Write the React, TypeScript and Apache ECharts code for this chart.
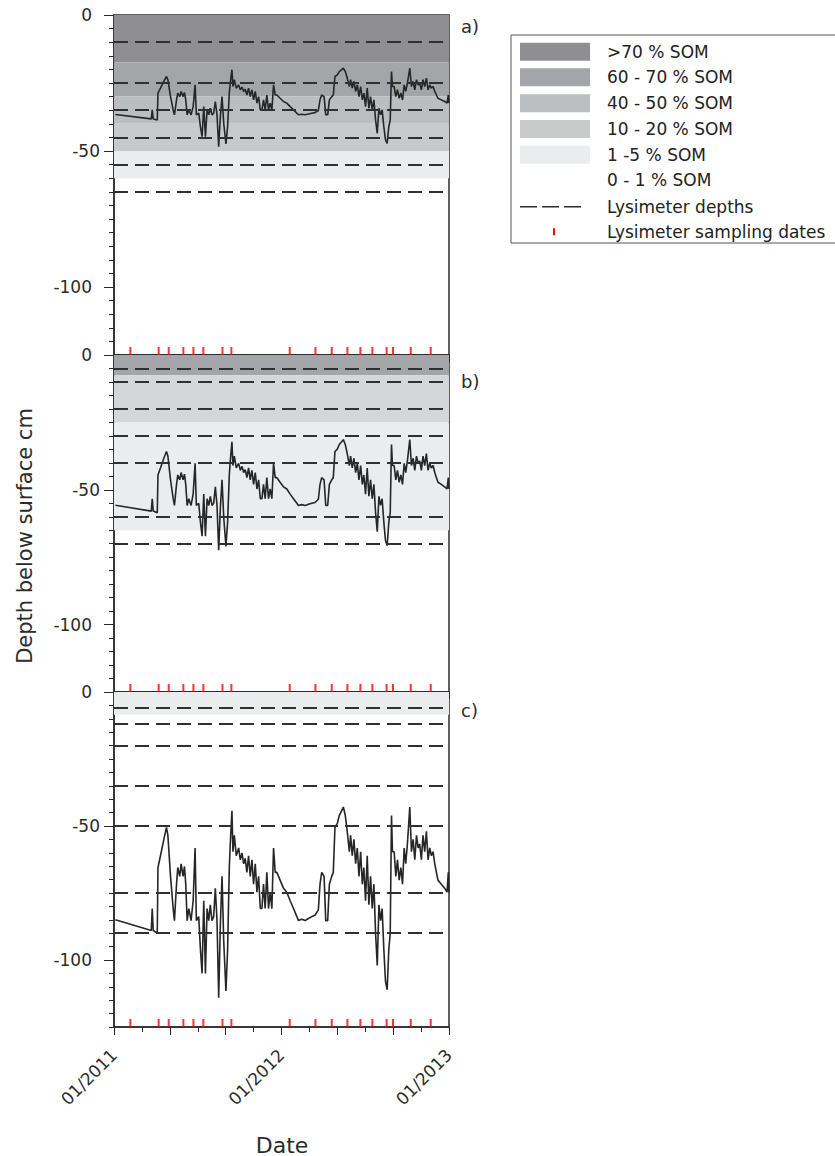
import React, { useEffect, useRef } from "react";
import * as echarts from "echarts";

// ---------- DATA ----------
// time in months since 01/2011
const months = [
  0.1, 2.67, 2.74, 2.81, 3.1, 3.15, 3.33, 3.57, 3.76, 3.86, 4.05, 4.24, 4.33, 4.48, 4.57, 4.71, 4.81, 4.95, 5.05, 5.14,
  5.24, 5.36, 5.52, 5.67, 5.81, 5.9, 6.07, 6.19, 6.31, 6.43, 6.55, 6.67, 6.79, 6.9, 7.02, 7.14, 7.26, 7.38, 7.5, 7.62,
  7.74, 7.86, 8.02, 8.14, 8.26, 8.33, 8.45, 8.52, 8.62, 8.76, 8.93, 9.05, 9.17, 9.29, 9.4, 9.52, 9.64, 9.76, 9.88, 10.0,
  10.12, 10.24, 10.36, 10.48, 10.6, 10.71, 10.83, 10.95, 11.07, 11.19, 11.31, 11.43, 11.55, 11.67, 11.9, 12.14, 12.38, 12.62, 12.86, 13.1,
  13.21, 13.45, 13.69, 13.93, 14.17, 14.4, 14.64, 14.76, 14.88, 15.05, 15.17, 15.31, 15.43, 15.6, 15.71, 15.83, 16.0, 16.14, 16.31, 16.43,
  16.57, 16.71, 16.86, 16.95, 17.07, 17.19, 17.31, 17.43, 17.55, 17.67, 17.79, 17.9, 18.02, 18.14, 18.26, 18.38, 18.5, 18.62, 18.74, 18.86,
  18.98, 19.1, 19.21, 19.33, 19.45, 19.57, 19.69, 19.79, 19.88, 19.95, 20.07, 20.19, 20.31, 20.43, 20.55, 20.67, 20.79, 20.9, 21.02, 21.19,
  21.31, 21.43, 21.55, 21.67, 21.79, 21.9, 22.02, 22.14, 22.26, 22.38, 22.5, 22.62, 22.74, 22.86, 22.98, 23.1, 23.21, 23.45, 23.69, 23.86,
  23.95, 24.0,
];

const depthA = [
  -36.6, -38.2, -34.9, -38.2, -38.6, -28.7, -26.9, -24.4, -22.6, -23.8, -30.0, -34.9, -36.7, -31.2, -28.7, -30.0, -28.1, -30.0, -28.5, -31.2,
  -36.7, -34.9, -36.7, -33.7, -25.7, -36.7, -36.1, -41.0, -44.7, -33.7, -44.7, -34.9, -36.7, -34.3, -36.7, -36.1, -31.8, -36.7, -48.4, -37.3,
  -30.0, -39.8, -47.4, -41.0, -28.7, -25.1, -20.1, -26.3, -23.8, -26.9, -25.7, -27.5, -26.5, -28.1, -27.3, -29.4, -26.9, -30.0, -27.5, -31.2,
  -28.1, -32.4, -30.0, -34.9, -34.9, -31.2, -34.9, -29.4, -34.9, -32.4, -34.9, -25.7, -29.4, -29.4, -30.6, -31.8, -32.4, -33.7, -34.9, -36.1,
  -36.7, -36.5, -36.7, -36.4, -36.1, -35.9, -35.1, -31.2, -29.4, -30.0, -36.7, -36.7, -31.2, -30.0, -29.4, -22.6, -22.0, -20.8, -20.1, -19.5,
  -20.8, -23.2, -26.3, -23.8, -26.9, -24.4, -28.1, -25.7, -30.0, -26.3, -31.2, -28.7, -33.7, -26.9, -34.3, -30.0, -34.9, -31.2, -38.6, -43.5,
  -34.3, -36.7, -34.9, -41.0, -45.9, -47.2, -41.0, -38.6, -20.8, -26.3, -26.3, -30.0, -27.5, -30.6, -28.7, -31.2, -25.7, -28.1, -25.1, -19.5,
  -26.3, -24.4, -27.5, -23.8, -25.7, -25.1, -27.5, -23.8, -26.3, -23.2, -27.5, -25.7, -26.9, -26.3, -28.1, -29.4, -30.6, -31.2, -31.8, -32.4,
  -29.4, -32.4,
];

const depthB = [
  -55.7, -57.9, -53.3, -57.9, -58.5, -44.5, -41.9, -38.3, -35.8, -37.5, -46.3, -53.3, -55.8, -48.0, -44.5, -46.3, -43.6, -46.3, -44.2, -48.0,
  -55.8, -53.3, -55.8, -51.6, -40.2, -55.8, -55.0, -61.9, -67.2, -51.6, -67.2, -53.3, -55.8, -52.4, -55.8, -55.0, -48.9, -55.8, -72.4, -56.7,
  -46.3, -60.2, -71.0, -61.9, -44.5, -39.3, -32.2, -41.0, -37.5, -41.9, -40.2, -42.8, -41.3, -43.6, -42.5, -45.5, -41.9, -46.3, -42.8, -48.0,
  -43.6, -49.7, -46.3, -53.3, -53.3, -48.0, -53.3, -45.5, -53.3, -49.7, -53.3, -40.2, -45.5, -45.5, -47.2, -48.9, -49.7, -51.6, -53.3, -55.0,
  -55.8, -55.5, -55.8, -55.4, -55.0, -54.7, -53.5, -48.0, -45.5, -46.3, -55.8, -55.8, -48.0, -46.3, -45.5, -35.8, -34.9, -33.2, -32.2, -31.4,
  -33.2, -36.6, -41.0, -37.5, -41.9, -38.3, -43.6, -40.2, -46.3, -41.0, -48.0, -44.5, -51.6, -41.9, -52.4, -46.3, -53.3, -48.0, -58.5, -65.5,
  -52.4, -55.8, -53.3, -61.9, -68.9, -70.7, -61.9, -58.5, -33.2, -41.0, -41.0, -46.3, -42.8, -47.2, -44.5, -48.0, -40.2, -43.6, -39.3, -31.4,
  -41.0, -38.3, -42.8, -37.5, -40.2, -39.3, -42.8, -37.5, -41.0, -36.6, -42.8, -40.2, -41.9, -41.0, -43.6, -45.5, -47.2, -48.0, -48.9, -49.7,
  -45.5, -49.7,
];

const depthC = [
  -85.0, -89.0, -80.8, -89.0, -90.0, -65.5, -61.1, -55.0, -50.5, -53.5, -68.8, -80.8, -85.3, -71.7, -65.5, -68.8, -64.1, -68.8, -65.1, -71.7,
  -85.3, -80.8, -85.3, -77.9, -58.2, -85.3, -83.8, -95.9, -105.0, -77.9, -105.0, -80.8, -85.3, -79.4, -85.3, -83.8, -73.2, -85.3, -114.1, -86.7,
  -68.8, -92.9, -111.6, -95.9, -65.5, -56.7, -44.3, -59.6, -53.5, -61.1, -58.2, -62.6, -60.1, -64.1, -62.1, -67.3, -61.1, -68.8, -62.6, -71.7,
  -64.1, -74.7, -68.8, -80.8, -80.8, -71.7, -80.8, -67.3, -80.8, -74.7, -80.8, -58.2, -67.3, -67.3, -70.2, -73.2, -74.7, -77.9, -80.8, -83.8,
  -85.3, -84.8, -85.3, -84.5, -83.8, -83.3, -81.3, -71.7, -67.3, -68.8, -85.3, -85.3, -71.7, -68.8, -67.3, -50.5, -49.0, -46.1, -44.3, -42.9,
  -46.1, -52.0, -59.6, -53.5, -61.1, -55.0, -64.1, -58.2, -68.8, -59.6, -71.7, -65.5, -77.9, -61.1, -79.4, -68.8, -80.8, -71.7, -90.0, -102.0,
  -79.4, -85.3, -80.8, -95.9, -108.0, -111.1, -95.9, -90.0, -46.1, -59.6, -59.6, -68.8, -62.6, -70.2, -65.5, -71.7, -58.2, -64.1, -56.7, -42.9,
  -59.6, -55.0, -62.6, -53.5, -58.2, -56.7, -62.6, -53.5, -59.6, -52.0, -62.6, -58.2, -61.1, -59.6, -64.1, -67.3, -70.2, -71.7, -73.2, -74.7,
  -67.3, -74.7,
];

const samplingMonths = [
  1.17, 3.2, 3.92, 4.97, 5.69, 6.4, 7.77, 8.41, 12.59, 14.43, 15.6, 16.72, 17.65, 18.51, 19.53, 19.99, 21.26, 22.69,
];

const lysimeterDepthsA = [-10, -25, -35, -45, -55, -65];
const lysimeterDepthsB = [-5, -10, -20, -30, -40, -60, -70];
const lysimeterDepthsC = [-6, -12, -20, -35, -50, -75, -90];

// SOM layers: [top, bottom, class key]
const somLayersA: [number, number, string][] = [
  [0, -17.5, "som70"],
  [-17.5, -30, "som60"],
  [-30, -40, "som40"],
  [-40, -50, "som10"],
  [-50, -60, "som1"],
];
const somLayersB: [number, number, string][] = [
  [0, -7.5, "som60"],
  [-7.5, -25, "som10b"],
  [-25, -65, "som1"],
];
const somLayersC: [number, number, string][] = [[0, -8.5, "som1"]];

const yTickLabels = [0, -50, -100];
const yMajorTicks = [0, -50, -100];
const xTickLabels: Record<number, string> = { 0: "01/2011", 12: "01/2012", 24: "01/2013" };
const panelLabels = ["a)", "b)", "c)"];
const legendLabels = [
  ">70 % SOM",
  "60 - 70 % SOM",
  "40 - 50 % SOM",
  "10 - 20 % SOM",
  "1 -5 % SOM",
  "0 - 1 % SOM",
  "Lysimeter depths",
  "Lysimeter sampling dates",
];
const legendSwatchKeys = ["som70", "som60", "som40", "som10", "som1"];

// ---------- STYLE ----------
const shades: Record<string, string> = {
  som70: "#8f8e93",
  som60: "#a4a5a9",
  som40: "#bbbec1",
  som10: "#c8c9cb",
  som10b: "#d4d6d9",
  som1: "#ebecee",
};
const FONT = "DejaVu Sans";
const INK = "#2b2b2b";

const grids = [
  { left: 114, top: 15, width: 335, height: 340 },
  { left: 114, top: 355, width: 335, height: 337 },
  { left: 114, top: 692, width: 335, height: 335 },
];

function buildOption() {
  const grid = grids.map((g) => ({
    ...g,
    containLabel: false,
    outerBoundsMode: "none",
    show: true,
    borderColor: INK,
    borderWidth: 1.5,
    backgroundColor: "transparent",
  }));

  const xAxis: any[] = [];
  [0, 1].forEach((i) => {
    xAxis.push({
      gridIndex: i,
      type: "value",
      position: "bottom",
      min: 0,
      max: 24,
      interval: 4,
      axisLine: { show: true, onZero: false, lineStyle: { color: INK, width: 1.5 } },
      axisTick: { show: true, length: 7, lineStyle: { color: INK, width: 1 } },
      axisLabel: { show: false },
      splitLine: { show: false },
    });
  });
  xAxis.push({
    gridIndex: 2,
    type: "value",
    position: "bottom",
    min: 0,
    max: 24,
    interval: 2,
    axisLine: { show: true, onZero: false, lineStyle: { color: INK, width: 1.5 } },
    axisTick: { show: true, length: 5, lineStyle: { color: INK, width: 1 } },
    axisLabel: {
      show: true,
      rotate: 45,
      margin: 25,
      fontFamily: FONT,
      fontSize: 17,
      color: INK,
      hideOverlap: false,
      formatter: (v: number) => xTickLabels[Math.round(v)] ?? "",
    },
    splitLine: { show: false },
  });
  xAxis.push({
    gridIndex: 2,
    type: "value",
    position: "bottom",
    offset: 0,
    min: 0,
    max: 24,
    interval: 4,
    axisLine: { show: false, onZero: false },
    axisTick: { show: true, length: 8, lineStyle: { color: INK, width: 1 } },
    axisLabel: { show: false },
    splitLine: { show: false },
  });

  const yAxis: any[] = [];
  [0, 1, 2].forEach((i) => {
    yAxis.push({
      gridIndex: i,
      type: "value",
      position: "left",
      min: -125,
      max: 0,
      interval: 5,
      axisLine: { show: true, onZero: false, lineStyle: { color: INK, width: 1.5 } },
      axisTick: { show: true, length: 5, lineStyle: { color: INK, width: 1 } },
      splitLine: { show: false },
      axisLabel: {
        show: true,
        margin: 14,
        fontFamily: FONT,
        fontSize: 17,
        color: INK,
        formatter: (v: number) => {
          if (!yTickLabels.includes(v)) return "";
          return v === -50 ? "{n|" + v + "}" : "{w|" + v + "}";
        },
        rich: {
          n: { fontFamily: FONT, fontSize: 17, color: INK },
          w: { fontFamily: FONT, fontSize: 17, color: INK, padding: [0, 8, 0, 0] },
        },
      },
    });
  });
  [0, 1, 2].forEach((i) => {
    yAxis.push({
      gridIndex: i,
      type: "value",
      position: "left",
      offset: 0,
      min: -125,
      max: 0,
      axisLine: { show: false, onZero: false },
      axisTick: { show: true, length: 10, customValues: yMajorTicks, lineStyle: { color: INK, width: 1 } },
      axisLabel: { show: false },
      splitLine: { show: false },
    });
  });

  const depths = [depthA, depthB, depthC];
  const layers = [somLayersA, somLayersB, somLayersC];
  const lys = [lysimeterDepthsA, lysimeterDepthsB, lysimeterDepthsC];
  const series: any[] = [];
  [0, 1, 2].forEach((i) => {
    const xi = i;
    series.push({
      type: "line",
      name: "som" + i,
      xAxisIndex: xi,
      yAxisIndex: i,
      data: [],
      silent: true,
      z: 1,
      markArea: {
        silent: true,
        data: layers[i].map(([top, bottom, key]) => [
          { yAxis: top, itemStyle: { color: shades[key], opacity: 1 } },
          { yAxis: bottom },
        ]),
      },
    });
    series.push({
      type: "line",
      name: "lys" + i,
      xAxisIndex: xi,
      yAxisIndex: i,
      data: [],
      silent: true,
      z: 2,
      markLine: {
        silent: true,
        symbol: ["none", "none"],
        label: { show: false },
        lineStyle: { type: [14, 7], color: "#303030", width: 1.8 },
        data: lys[i].map((d) => ({ yAxis: d })),
      },
    });
    series.push({
      type: "line",
      name: "water" + i,
      xAxisIndex: xi,
      yAxisIndex: i,
      data: months.map((m, k) => [m, depths[i][k]]),
      showSymbol: false,
      symbol: "none",
      silent: true,
      z: 3,
      lineStyle: { color: "#262626", width: 1.6 },
    });
    series.push({
      type: "scatter",
      name: "samp" + i,
      xAxisIndex: xi,
      yAxisIndex: i,
      data: samplingMonths.map((m) => [m, -125]),
      symbol: "rect",
      symbolSize: [2, 8],
      symbolOffset: [0, -4],
      itemStyle: { color: "#ff0000" },
      silent: true,
      z: 4,
    });
  });

  const graphic: any[] = [];
  graphic.push({
    type: "text",
    x: 25,
    y: 536,
    rotation: Math.PI / 2,
    style: { text: "Depth below surface cm", font: `21px "${FONT}"`, fill: INK, textAlign: "center", textVerticalAlign: "middle" },
  });
  graphic.push({
    type: "text",
    x: 282,
    y: 1145,
    style: { text: "Date", font: `22px "${FONT}"`, fill: INK, textAlign: "center", textVerticalAlign: "middle" },
  });
  const panelLabelY = [26, 381, 710];
  panelLabels.forEach((t, i) =>
    graphic.push({
      type: "text",
      x: 461,
      y: panelLabelY[i],
      style: { text: t, font: `18px "${FONT}"`, fill: INK, textAlign: "left", textVerticalAlign: "middle" },
    })
  );
  graphic.push({
    type: "rect",
    shape: { x: 511, y: 35, width: 340, height: 208 },
    style: { fill: "#ffffff", stroke: "#555555", lineWidth: 1 },
  });
  const rowY = [51.7, 77.3, 103.3, 129, 154.7, 180, 206.7, 232.3];
  legendSwatchKeys.forEach((k, i) =>
    graphic.push({
      type: "rect",
      shape: { x: 520, y: rowY[i] - 9, width: 70, height: 18 },
      style: { fill: shades[k] },
    })
  );
  graphic.push({
    type: "line",
    shape: { x1: 520, y1: rowY[6], x2: 582, y2: rowY[6] },
    style: { stroke: INK, lineWidth: 1.5, lineDash: [17, 5] },
  });
  graphic.push({
    type: "line",
    shape: { x1: 554, y1: rowY[7] - 4, x2: 554, y2: rowY[7] + 3 },
    style: { stroke: "#ff0000", lineWidth: 2 },
  });
  legendLabels.forEach((t, i) =>
    graphic.push({
      type: "text",
      x: 607,
      y: rowY[i],
      style: { text: t, font: `17px "${FONT}"`, fill: "#222222", textAlign: "left", textVerticalAlign: "middle" },
    })
  );

  return {
    animation: false,
    backgroundColor: "#ffffff",
    grid,
    xAxis,
    yAxis,
    series,
    graphic,
  };
}

export default function App() {
  const ref = useRef<HTMLDivElement>(null);
  useEffect(() => {
    if (!ref.current) return;
    const chart = echarts.init(ref.current, null, { renderer: "svg" });
    chart.setOption(buildOption() as any);
    return () => chart.dispose();
  }, []);
  return (
    <div
      ref={ref}
      style={{ position: "absolute", left: 0, top: 0, width: 835, height: 1156 }}
    />
  );
}
